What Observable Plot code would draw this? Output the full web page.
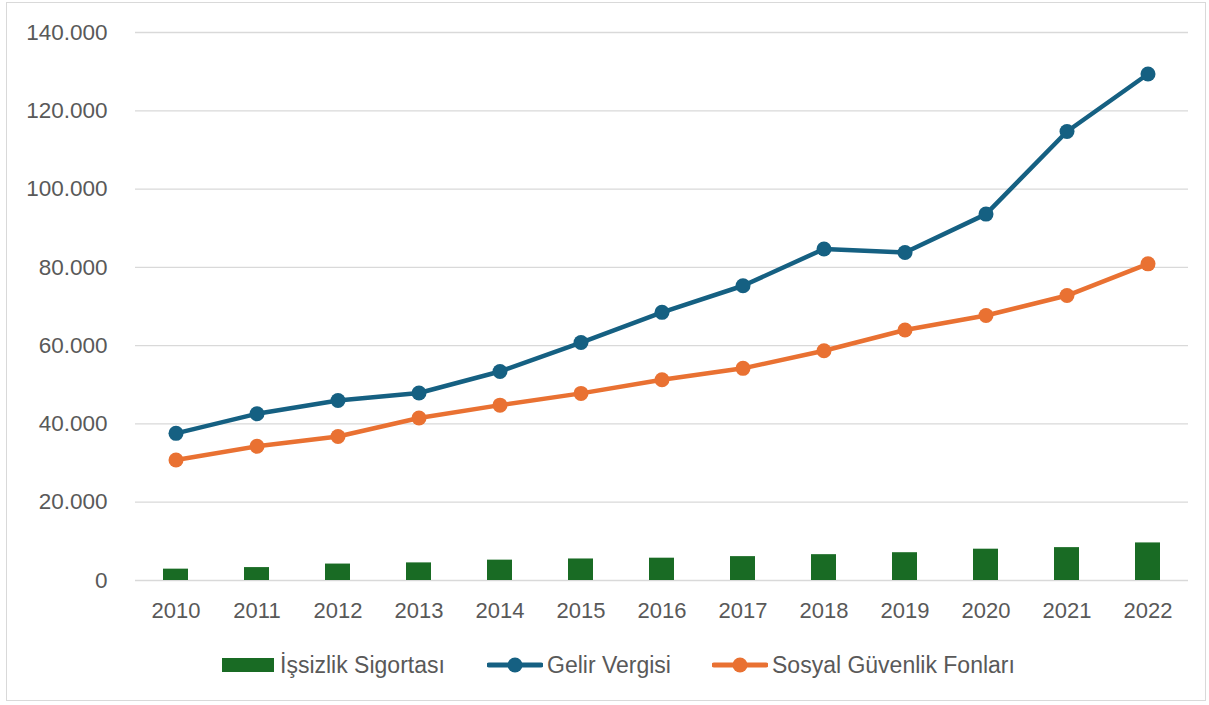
<!DOCTYPE html>
<html>
<head>
<meta charset="utf-8">
<script src="https://cdn.jsdelivr.net/npm/d3@7"></script>
<script src="https://cdn.jsdelivr.net/npm/@observablehq/plot@0.6"></script>
<style>
  html, body { margin: 0; padding: 0; background: #fff; }
  body { width: 1209px; height: 705px; position: relative; overflow: hidden; font-family: "Liberation Sans", Arial, sans-serif; }
  #frame { position: absolute; left: 6px; top: 2px; width: 1200px; height: 699px; border: 1px solid #d9d9d9; box-sizing: border-box; pointer-events: none; }
  #chart { position: absolute; left: 0; top: 0; }
  #legend { position: absolute; left: 0; top: 651px; width: 1209px; height: 28px; font-size: 23px; color: #595959; white-space: nowrap; }
  #legend .item { position: absolute; top: 0; height: 28px; display: flex; align-items: center; }
  #legend svg { display: block; }
</style>
</head>
<body>
<div id="chart"></div>
<div id="legend"></div>
<div id="frame"></div>
<script>
const years = ["2010","2011","2012","2013","2014","2015","2016","2017","2018","2019","2020","2021","2022"];
const issizlik = [2900, 3300, 4200, 4500, 5200, 5500, 5700, 6100, 6600, 7100, 8000, 8400, 9600];
const gelir = [37600, 42600, 46000, 47900, 53400, 60800, 68500, 75300, 84700, 83800, 93600, 114700, 129400];
const sosyal = [30800, 34300, 36800, 41500, 44800, 47800, 51300, 54200, 58700, 64000, 67700, 72800, 80900];
const yTicks = [0, 20000, 40000, 60000, 80000, 100000, 120000, 140000];
const seriesNames = ["İşsizlik Sigortası", "Gelir Vergisi", "Sosyal Güvenlik Fonları"];
const colors = ["#196B24", "#156082", "#E97132"];

const barData = years.map((y, i) => ({year: y, value: issizlik[i]}));
const lineData = [
  ...years.map((y, i) => ({year: y, value: gelir[i], series: seriesNames[1]})),
  ...years.map((y, i) => ({year: y, value: sosyal[i], series: seriesNames[2]}))
];

const fmt = v => v === 0 ? "0" : d3.format(",")(v).replace(/,/g, ".");

const chart = Plot.plot({
  width: 1209,
  height: 640,
  marginLeft: 135,
  marginRight: 21,
  marginTop: 32,
  marginBottom: 60,
  style: {fontFamily: "'Liberation Sans', Arial, sans-serif", fontSize: "22.5px", color: "#595959", background: "transparent"},
  x: {type: "band", domain: years, paddingInner: 0.69, paddingOuter: 0.345, align: 0.5, label: null},
  y: {domain: [0, 140000], label: null},
  color: {domain: seriesNames, range: colors},
  marks: [
    Plot.ruleY(yTicks, {stroke: "#d9d9d9", strokeWidth: 1.3}),
    Plot.axisY(yTicks, {tickSize: 0, tickPadding: 28, tickFormat: fmt, fill: "#595959", fontSize: 22.5, label: null}),
    Plot.axisX(years, {tickSize: 0, tickPadding: 22, fill: "#595959", fontSize: 22, label: null}),
    Plot.barY(barData, {x: "year", y: "value", fill: colors[0]}),
    Plot.line(lineData, {x: "year", y: "value", z: "series", stroke: "series", strokeWidth: 4.5, strokeLinejoin: "round"}),
    Plot.dot(lineData, {x: "year", y: "value", fill: "series", r: 7.5, stroke: "none"})
  ]
});
document.getElementById("chart").appendChild(chart);

// legend
const legend = document.getElementById("legend");
const lefts = [222, 487, 712];
seriesNames.forEach((name, i) => {
  const item = document.createElement("div");
  item.className = "item";
  item.style.left = lefts[i] + "px";
  let sw;
  if (i === 0) {
    sw = `<svg width="52" height="16"><rect x="0" y="1" width="52" height="14" fill="${colors[0]}"/></svg>`;
  } else {
    sw = `<svg width="56" height="16"><line x1="2" y1="8" x2="54" y2="8" stroke="${colors[i]}" stroke-width="5" stroke-linecap="round"/><circle cx="28" cy="8" r="7.5" fill="${colors[i]}"/></svg>`;
  }
  item.innerHTML = sw + `<span style="margin-left:${i === 0 ? 6 : 4}px">${name}</span>`;
  legend.appendChild(item);
});
</script>
</body>
</html>
